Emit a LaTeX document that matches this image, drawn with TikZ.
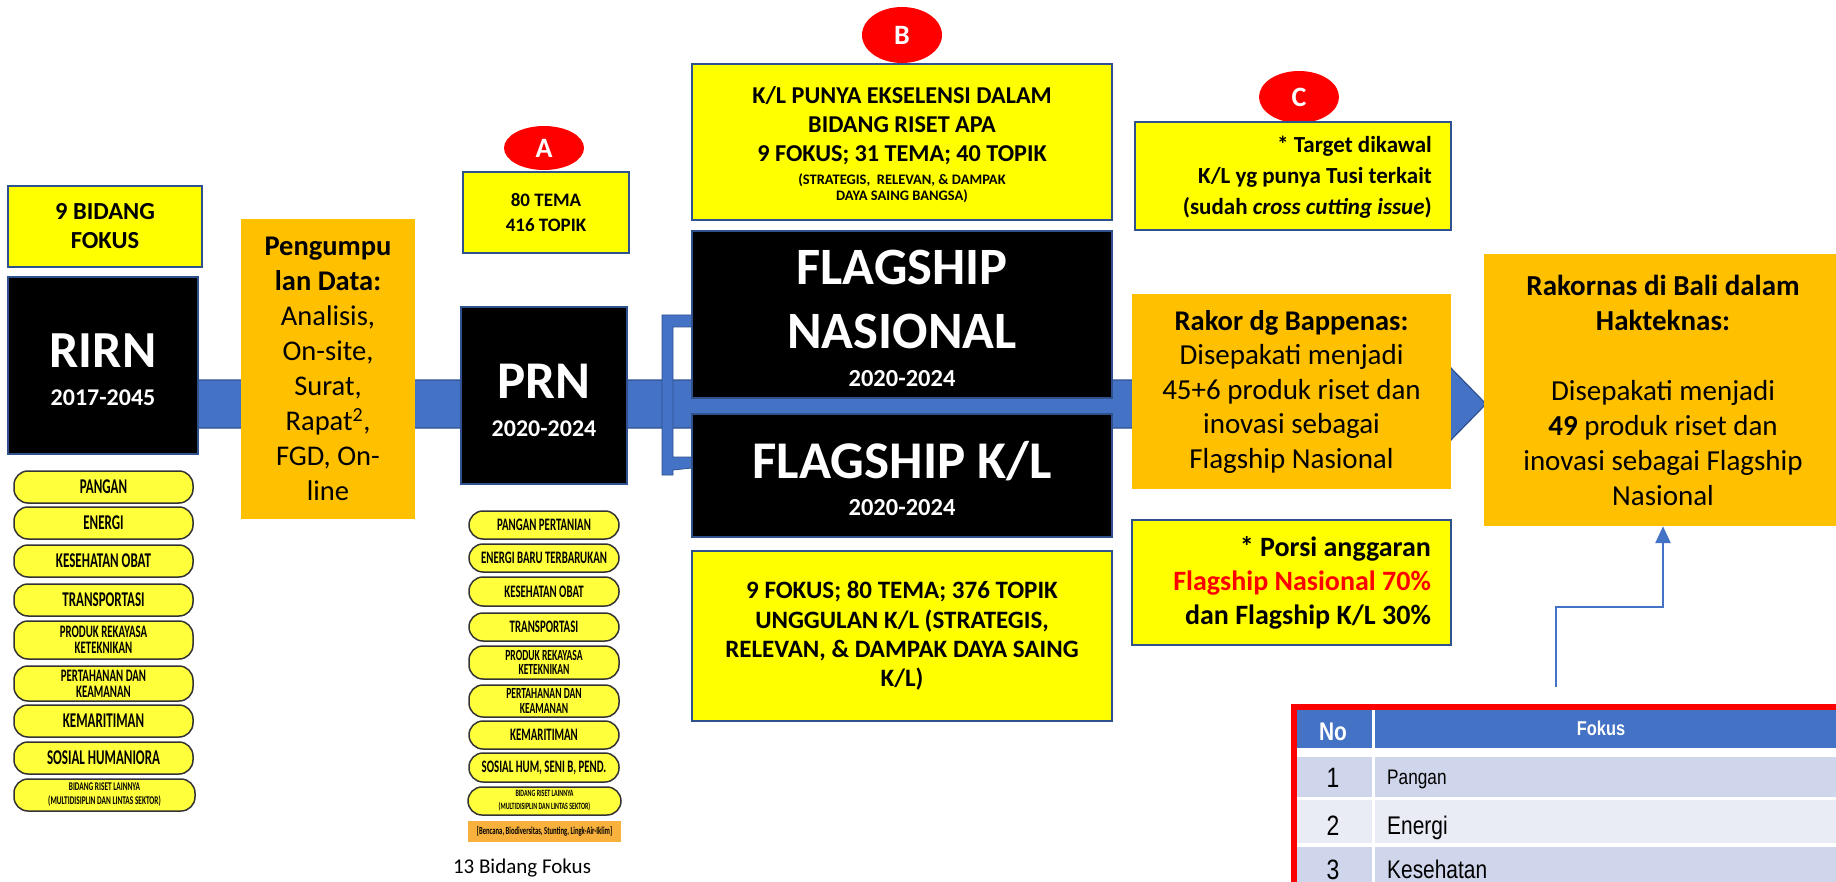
\documentclass[tikz,border=0pt]{standalone}
\usepackage{fontspec}
\setmainfont{Carlito}
\newfontfamily\condf{Carlito}[FakeStretch=0.62]
\newfontfamily\narrowf{Liberation Sans}[FakeStretch=0.82, BoldFont={Liberation Sans Bold}]
\usetikzlibrary{arrows.meta,shapes.geometric}
\definecolor{bandblue}{HTML}{4472C4}
\definecolor{darkblue}{HTML}{2F528F}
\definecolor{yel}{HTML}{FFFF00}
\definecolor{orng}{HTML}{FFC000}
\definecolor{pillc}{HTML}{FFFF3C}
\definecolor{stripor}{HTML}{F7B13C}
\definecolor{rowa}{HTML}{CFD5EA}
\definecolor{rowb}{HTML}{E9EBF5}
\newcommand{\fsz}[2]{\fontsize{#1}{#2}\selectfont}
\newcommand{\pf}[2]{\condf\bfseries\fontsize{#1}{#2}\selectfont}
\tikzset{
 ybox/.style={draw=darkblue, line width=2pt, fill=yel, inner sep=0pt, align=center},
 obox/.style={fill=orng, inner sep=0pt, align=center},
 kbox/.style={draw=darkblue, line width=2pt, fill=black, inner sep=0pt},
 wtxt/.style={text=white, inner sep=0pt, anchor=base},
 pillbox/.style={draw=black!80, line width=1.5pt, fill=pillc, rounded corners=14pt, inner sep=0pt, align=center},
 rpill/.style={pillbox, minimum width=179pt},
 ppill/.style={pillbox, minimum width=150pt},
 badge/.style={ellipse, fill=red, text=white, inner sep=0pt, minimum width=80pt, font=\fsz{28}{30}\bfseries},
 arrowline/.style={draw=bandblue, line width=2.7pt, -{Triangle[width=15pt,length=17pt]}},
 tnum/.style={inner sep=0pt, font=\narrowf\fsz{28}{30}},
}
\begin{document}
\begin{tikzpicture}[x=1pt,y=-1pt]
\useasboundingbox (0,0) rectangle (1836,882);
\clip (0,0) rectangle (1836,882);
\fill[white] (0,0) rectangle (1836,882);

% main band with arrow head
\filldraw[fill=bandblue, draw=darkblue, line width=1.2pt] (190,380) -- (1410,380) -- (1410,326) -- (1486,404) -- (1410,482) -- (1410,428) -- (190,428) -- cycle;
% bracket
\filldraw[fill=bandblue, draw=darkblue, line width=0.8pt] (662,315) -- (692,315) -- (692,327) -- (673,327) -- (673,457) -- (692,457) -- (692,468) -- (673,470) -- (673,475) -- (662,475) -- cycle;

% RIRN column
\node[ybox, minimum width=194pt, minimum height=81pt, font=\fsz{24.5}{29}\bfseries] (bidang) at (105,226.5) {9 BIDANG\\FOKUS};
\node[kbox, minimum width=190pt, minimum height=177pt] (rirn) at (103,365.5) {};
\node[wtxt, font=\fsz{52}{56}\bfseries] (rirnT) at (103,368) {RIRN};
\node[wtxt, font=\fsz{24}{28}\bfseries] (rirnY) at (103,405) {2017-2045};

\node[rpill, minimum height=32pt, font=\pf{21}{22}] (r1) at (103.5,487) {PANGAN};
\node[rpill, minimum height=32pt, font=\pf{21}{22}] (r2) at (103.5,523) {ENERGI};
\node[rpill, minimum height=32pt, font=\pf{21}{22}] (r3) at (103.5,561) {KESEHATAN OBAT};
\node[rpill, minimum height=32pt, font=\pf{21}{22}] (r4) at (103.5,600) {TRANSPORTASI};
\node[rpill, minimum height=38pt, font=\pf{17.5}{16}] (r5) at (103.5,640) {PRODUK REKAYASA\\KETEKNIKAN};
\node[rpill, minimum height=35pt, font=\pf{17.5}{16}] (r6) at (103.5,683.5) {PERTAHANAN DAN\\KEAMANAN};
\node[rpill, minimum height=32pt, font=\pf{21}{22}] (r7) at (103.5,721) {KEMARITIMAN};
\node[rpill, minimum height=32pt, font=\pf{21}{22}] (r8) at (103.5,758) {SOSIAL HUMANIORA};
\node[rpill, minimum width=181pt, minimum height=32pt, font=\pf{11.8}{14}] (r9) at (104.5,795) {BIDANG RISET LAINNYA\\(MULTIDISIPLIN DAN LINTAS SEKTOR)};

% Pengumpulan data
\node[obox, minimum width=174pt, minimum height=300pt, font=\fsz{28.5}{34.9}] (peng) at (328,369) {\textbf{Pengumpu}\\\textbf{lan Data:}\\Analisis,\\On-site,\\Surat,\\Rapat\textsuperscript{2},\\FGD, On-\\line};

% PRN column
\node[badge, minimum height=44pt] (badA) at (544,148) {A};
\node[ybox, minimum width=166pt, minimum height=81pt, font=\fsz{19}{24.3}\bfseries] (tema) at (546,212.5) {80 TEMA\\416 TOPIK};
\node[kbox, minimum width=166pt, minimum height=177pt] (prn) at (544,395.5) {};
\node[wtxt, font=\fsz{53}{56}\bfseries] (prnT) at (544,398) {PRN};
\node[wtxt, font=\fsz{24}{28}\bfseries] (prnY) at (544,436) {2020-2024};

\node[ppill, minimum height=28pt, font=\pf{17.5}{19}] (p1) at (544,525) {PANGAN PERTANIAN};
\node[ppill, minimum height=28pt, font=\pf{17.5}{19}] (p2) at (544,558) {ENERGI BARU TERBARUKAN};
\node[ppill, minimum height=29pt, font=\pf{17.5}{19}] (p3) at (544,591.5) {KESEHATAN OBAT};
\node[ppill, minimum height=28pt, font=\pf{17.5}{19}] (p4) at (544,627) {TRANSPORTASI};
\node[ppill, minimum height=33pt, font=\pf{15.5}{14.5}] (p5) at (544,662.5) {PRODUK REKAYASA\\KETEKNIKAN};
\node[ppill, minimum height=32pt, font=\pf{15.5}{14.5}] (p6) at (544,701) {PERTAHANAN DAN\\KEAMANAN};
\node[ppill, minimum height=28pt, font=\pf{17.5}{19}] (p7) at (544,735) {KEMARITIMAN};
\node[ppill, minimum height=29pt, font=\pf{17.5}{19}] (p8) at (544,767.5) {SOSIAL HUM, SENI B, PEND.};
\node[ppill, minimum width=153pt, minimum height=28pt, font=\pf{9.6}{13}] (p9) at (544.5,801) {BIDANG RISET LAINNYA\\(MULTIDISIPLIN DAN LINTAS SEKTOR)};
\node[fill=stripor, minimum width=153pt, minimum height=21pt, inner sep=0pt, font=\pf{10.7}{12}] (strip) at (544.5,831.5) {[Bencana, Biodiversitas, Stunting, Lingk-Air-Iklim]};
\node[inner sep=0pt, anchor=base, font=\fsz{21}{24}] (bf13) at (522,873) {13 Bidang Fokus};

% Flagship column
\node[badge, minimum height=56pt] (badB) at (902,35) {B};
\node[ybox, minimum width=420pt, minimum height=156pt] (bbox) at (902,142) {};
\node[inner sep=0pt, align=center, font=\fsz{24.2}{29}\bfseries] (btxt) at (902,126) {K/L PUNYA EKSELENSI DALAM\\BIDANG RISET APA\\9 FOKUS; 31 TEMA; 40 TOPIK};
\node[inner sep=0pt, align=center, font=\fsz{14.5}{16}\bfseries] (bsmall) at (902,188) {(STRATEGIS,\ \ RELEVAN, \& DAMPAK\\DAYA SAING BANGSA)};

\node[kbox, minimum width=420pt, minimum height=167pt] (fn) at (902,314.5) {};
\node[wtxt, font=\fsz{52.5}{56}\bfseries] (fnT1) at (902,285) {FLAGSHIP};
\node[wtxt, font=\fsz{52.5}{56}\bfseries] (fnT2) at (902,349) {NASIONAL};
\node[wtxt, font=\fsz{24.5}{28}\bfseries] (fnY) at (902,387) {2020-2024};

\node[kbox, minimum width=420pt, minimum height=123pt] (kl) at (902,475.5) {};
\node[wtxt, font=\fsz{53}{56}\bfseries] (klT) at (902,478) {FLAGSHIP K/L};
\node[wtxt, font=\fsz{24.5}{28}\bfseries] (klY) at (902,515) {2020-2024};

\node[ybox, minimum width=420pt, minimum height=170pt, font=\fsz{25}{29.3}\bfseries] (fok9) at (902,636) {9 FOKUS; 80 TEMA; 376 TOPIK\\UNGGULAN K/L (STRATEGIS,\\RELEVAN, \& DAMPAK DAYA SAING\\K/L)};

% C column
\node[badge, minimum height=52pt] (badC) at (1299,97) {C};
\node[ybox, minimum width=316pt, minimum height=108pt] (cbox) at (1293,176) {};
\node[inner sep=0pt, anchor=east, align=right, font=\fsz{23}{31}\bfseries] (ctxt) at (1432,177) {* Target dikawal\\K/L yg punya Tusi terkait\\(sudah \textit{cross cutting issue})};

\node[obox, minimum width=319pt, minimum height=195pt, font=\fsz{29}{34.5}] (rakor) at (1291.5,391.5) {{\fontsize{28.5}{34.5}\selectfont\bfseries Rakor dg Bappenas:}\\Disepakati menjadi\\45+6 produk riset dan\\inovasi sebagai\\Flagship Nasional};

\node[ybox, minimum width=319pt, minimum height=125pt] (porsi) at (1291.5,582.5) {};
\node[inner sep=0pt, anchor=east, align=right, font=\fsz{28}{34}\bfseries] (ptxt) at (1431,583) {* Porsi anggaran\\\textcolor{red}{Flagship Nasional 70\%}\\dan Flagship K/L 30\%};

\node[obox, minimum width=358pt, minimum height=272pt, font=\fsz{29}{35}] (rakornas) at (1663,390) {\textbf{Rakornas di Bali dalam}\\\textbf{Hakteknas:}\\\mbox{}\\Disepakati menjadi\\\textbf{49} produk riset dan\\inovasi sebagai Flagship\\Nasional};

% table
\fill[bandblue] (1295,707) rectangle (1372,748);
\fill[bandblue] (1375,707) rectangle (1836,748);
\fill[rowa] (1295,757) rectangle (1372,797);
\fill[rowa] (1375,757) rectangle (1836,797);
\fill[rowb] (1295,800) rectangle (1372,843);
\fill[rowb] (1375,800) rectangle (1836,843);
\fill[rowa] (1295,847) rectangle (1372,890);
\fill[rowa] (1375,847) rectangle (1836,890);
\node[draw=red, line width=6pt, minimum width=570pt, minimum height=200pt, inner sep=0pt, anchor=north west] (tbl) at (1291,704) {};
\node[tnum, text=white, font=\narrowf\bfseries\fsz{25.5}{28}, anchor=base] (hNo) at (1333,740) {No};
\node[tnum, text=white, font=\narrowf\bfseries\fsz{20}{24}, anchor=base] (hFok) at (1601,735) {Fokus};
\node[tnum, anchor=base] (n1) at (1333,787) {1};
\node[tnum, anchor=base west, font=\narrowf\fsz{21}{24}] (f1) at (1387,784) {Pangan};
\node[tnum, anchor=base] (n2) at (1333,835) {2};
\node[tnum, anchor=base west, font=\narrowf\fsz{25.5}{28}] (f2) at (1387,834) {Energi};
\node[tnum, anchor=base] (n3) at (1333,879) {3};
\node[tnum, anchor=base west, font=\narrowf\fsz{25.5}{28}] (f3) at (1387,878) {Kesehatan};

% up arrow
\coordinate (astart) at (1556,687);
\draw[arrowline] (astart) -- (1556,607) -- (1663,607) -- (rakornas.south);
\end{tikzpicture}
\end{document}
